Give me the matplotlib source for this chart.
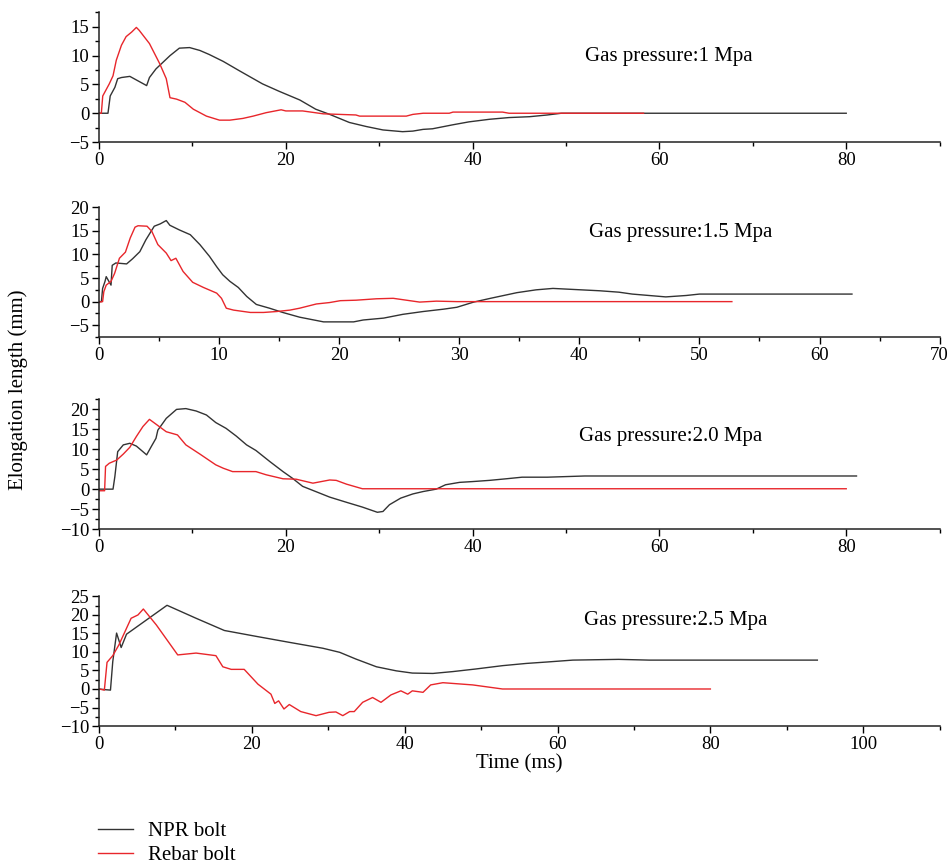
import matplotlib
matplotlib.use('Agg')
import matplotlib.pyplot as plt
from matplotlib.ticker import MultipleLocator
from matplotlib.lines import Line2D

plt.rcParams['font.family'] = ['Liberation Serif', 'DejaVu Serif']

# ---- data (time in ms, elongation in mm) ----
npr1_t = [0, 0.96, 1.2, 1.7, 2.0, 2.4, 3.3, 5.1, 5.4, 6.1, 7.6, 8.6, 9.7, 10.8, 11.8, 13.3, 15.0, 17.5,
          19.3, 21.5, 23.2, 24.7, 26.8, 28.6, 30.4, 32.5, 33.6, 34.7, 35.7, 37.9, 39.6, 41.8, 43.9, 46.1,
          48.0, 49.5, 80]
npr1_y = [0, 0, 3.0, 4.5, 6.0, 6.2, 6.4, 4.8, 6.2, 7.7, 10.0, 11.3, 11.4, 10.9, 10.2, 9.0, 7.4, 5.1,
          3.8, 2.3, 0.7, -0.2, -1.6, -2.3, -2.9, -3.2, -3.1, -2.8, -2.7, -2.0, -1.5, -1.05, -0.75, -0.6,
          -0.3, 0, 0]
reb1_t = [0, 0.25, 0.4, 0.8, 1.1, 1.5, 1.85, 2.4, 2.9, 3.5, 4.0, 4.3, 5.4, 6.5, 7.2, 7.6, 8.3, 9.2,
          10.1, 11.5, 12.9, 14.0, 15.4, 16.5, 17.9, 19.5, 20.0, 21.8, 24.0, 27.5, 27.9, 32.9, 33.6, 34.7,
          37.5, 37.9, 43.2, 43.9, 58.3]
reb1_y = [0, 0, 3.0, 4.2, 5.1, 6.5, 9.2, 11.8, 13.3, 14.1, 14.9, 14.4, 12.1, 8.6, 6.0, 2.7, 2.45, 1.9,
          0.7, -0.5, -1.2, -1.2, -0.9, -0.5, 0.1, 0.6, 0.4, 0.4, -0.1, -0.3, -0.5, -0.5, -0.2, 0.0,
          0, 0.2, 0.2, 0, 0]

npr2_t = [0, 0.2, 0.3, 0.5, 0.6, 0.8, 1.0, 1.1, 1.4, 2.3, 2.8, 3.4, 3.9, 4.6, 5.1, 5.6, 5.9, 6.7, 7.6,
          8.4, 9.2, 9.8, 10.3, 10.9, 11.6, 12.3, 13.1, 14.2, 15.3, 16.7, 18.7, 21.2, 22.0, 23.7, 25.3,
          27.0, 28.7, 29.8, 31.2, 32.6, 34.8, 36.4, 37.8, 41.7, 43.3, 44.4, 45.8, 47.2, 48.9, 50.0, 62.7]
npr2_y = [0, 0, 2.8, 4.3, 5.3, 4.4, 3.5, 7.7, 8.2, 8.0, 9.1, 10.6, 13.1, 16.0, 16.5, 17.2, 16.2, 15.2,
          14.2, 12.1, 9.6, 7.4, 5.7, 4.3, 3.0, 1.1, -0.6, -1.4, -2.3, -3.3, -4.3, -4.3, -3.9, -3.5, -2.7,
          -2.1, -1.6, -1.2, -0.1, 0.7, 1.9, 2.5, 2.8, 2.3, 2.0, 1.6, 1.3, 1.0, 1.3, 1.6, 1.6]
reb2_t = [0, 0.3, 0.4, 0.6, 1.0, 1.3, 1.7, 2.2, 2.6, 3.0, 3.25, 4.0, 4.4, 4.9, 5.6, 6.0, 6.4, 7.0, 7.8,
          8.7, 9.8, 10.2, 10.6, 11.2, 12.6, 13.7, 14.8, 15.9, 16.7, 18.1, 19.2, 20.1, 21.4, 23.1, 24.5,
          25.6, 26.7, 28.1, 29.8, 52.7]
reb2_y = [-0.1, 0, 2.1, 3.5, 4.3, 6.0, 9.2, 10.5, 13.5, 15.8, 16.1, 16.0, 14.9, 12.1, 10.3, 8.7, 9.2,
          6.4, 4.1, 3.0, 1.8, 0.7, -1.4, -1.8, -2.3, -2.3, -2.1, -1.8, -1.4, -0.5, -0.2, 0.2, 0.3, 0.6,
          0.7, 0.3, -0.1, 0.1, 0, 0]

npr3_t = [0, 1.5, 1.7, 2.0, 2.6, 3.3, 4.0, 5.1, 5.6, 6.1, 6.3, 7.2, 8.3, 9.3, 10.4, 11.5, 12.5, 13.6,
          14.7, 15.8, 16.8, 18.3, 19.7, 20.7, 21.8, 23.2, 24.7, 26.5, 28.2, 29.8, 30.4, 31.1, 32.3, 33.6,
          34.7, 36.1, 37.1, 38.6, 40.0, 41.8, 43.6, 45.3, 48.0, 52.0, 81.1]
npr3_y = [0, 0, 3.2, 9.4, 11.1, 11.5, 10.8, 8.6, 10.7, 12.75, 14.8, 17.75, 20.0, 20.2, 19.6, 18.6,
          16.7, 15.25, 13.3, 11.1, 9.7, 6.9, 4.4, 2.75, 0.7, -0.6, -2.0, -3.3, -4.5, -5.8, -5.6, -3.9,
          -2.25, -1.2, -0.6, 0, 1.1, 1.7, 1.9, 2.2, 2.6, 3.0, 3.0, 3.3, 3.3]
reb3_t = [0, 0.6, 0.7, 1.1, 1.9, 2.6, 3.3, 4.0, 4.7, 5.4, 6.1, 7.2, 8.4, 9.3, 10.8, 12.5, 13.3, 14.3,
          16.8, 17.9, 19.7, 21.1, 22.9, 24.7, 25.4, 26.5, 28.2, 80]
reb3_y = [-0.4, -0.4, 5.7, 6.5, 7.3, 8.8, 10.5, 13.2, 15.7, 17.5, 16.3, 14.4, 13.6, 11.1, 8.8, 6.1,
          5.25, 4.4, 4.4, 3.6, 2.6, 2.5, 1.5, 2.3, 2.2, 1.25, 0.1, 0.1]

npr4_t = [0, 0.9, 1.5, 1.8, 2.3, 2.9, 3.6, 8.9, 12.7, 16.4, 20.6, 24.9, 29.3, 31.5, 33.6, 36.3, 38.9,
          41.0, 43.7, 46.3, 49.3, 52.8, 55.9, 58.7, 62.0, 68.0, 72.0, 94.0]
npr4_y = [0, -0.2, -0.3, 7.4, 15.1, 11.2, 14.8, 22.6, 19.1, 15.8, 14.2, 12.6, 11.0, 9.9, 8.1, 6.0, 4.9,
          4.3, 4.2, 4.7, 5.4, 6.3, 6.9, 7.3, 7.8, 8.0, 7.8, 7.8]
reb4_t = [0, 0.7, 1.05, 1.8, 2.6, 3.4, 4.2, 5.1, 5.8, 7.5, 10.3, 12.7, 15.3, 16.2, 17.3, 19.0, 20.8,
          22.5, 23.0, 23.5, 24.2, 24.9, 26.4, 28.4, 30.1, 31.0, 31.9, 32.8, 33.4, 34.5, 35.8, 36.9, 38.2,
          39.5, 40.4, 41.0, 42.4, 43.4, 45.0, 48.9, 52.8, 80]
reb4_y = [0, -0.3, 7.2, 9.0, 11.9, 15.5, 19.1, 20.0, 21.6, 17.3, 9.2, 9.7, 9.0, 6.0, 5.3, 5.3, 1.3,
          -1.4, -3.9, -3.2, -5.4, -4.2, -6.1, -7.2, -6.3, -6.2, -7.2, -6.1, -6.1, -3.6, -2.3, -3.6, -1.6,
          -0.5, -1.4, -0.5, -0.9, 1.1, 1.7, 1.1, 0, 0]

labels = ['Gas pressure:1 Mpa', 'Gas pressure:1.5 Mpa', 'Gas pressure:2.0 Mpa', 'Gas pressure:2.5 Mpa']

# per panel: x limits, x major/minor, y limits, label position
panels = [
    (npr1_t, npr1_y, reb1_t, reb1_y, (0, 90), 20, 10, (-5, 17.5), (52, 9.8)),
    (npr2_t, npr2_y, reb2_t, reb2_y, (0, 70), 10, 5, (-7.5, 20), (40.8, 14.7)),
    (npr3_t, npr3_y, reb3_t, reb3_y, (0, 90), 20, 10, (-10, 22.5), (51.4, 13.2)),
    (npr4_t, npr4_y, reb4_t, reb4_y, (0, 110), 20, 10, (-10, 25), (63.5, 18.6)),
]
bottoms = [0.8356, 0.610, 0.3877, 0.1597]

black = '#333333'
red = '#e8262b'

fig = plt.figure(figsize=(9.52, 8.64), dpi=100)

for i, p in enumerate(panels):
    nt, ny, rt, ry, xl, xmaj, xmin, yl, lab = p
    ax = fig.add_axes([0.104, bottoms[i], 0.883, 0.150])
    ax.plot(nt, ny, color=black, lw=1.0)
    ax.plot(rt, ry, color=red, lw=1.0)
    ax.set_xlim(xl)
    ax.set_ylim(yl)
    ax.xaxis.set_major_locator(MultipleLocator(xmaj))
    ax.xaxis.set_minor_locator(MultipleLocator(xmin))
    ax.yaxis.set_major_locator(MultipleLocator(5))
    ax.yaxis.set_minor_locator(MultipleLocator(2.5))
    for s in ['top', 'right']:
        ax.spines[s].set_visible(False)
    for s in ['left', 'bottom']:
        ax.spines[s].set_linewidth(1.1)
        ax.spines[s].set_color('#222222')
    ax.tick_params(which='major', direction='out', length=5, width=1.0, labelsize=13.5, pad=2)
    ax.tick_params(which='minor', direction='out', length=3, width=1.0)
    ax.text(lab[0], lab[1], labels[i], fontsize=15, va='center', ha='left')
    if i == 3:
        ax.set_xlabel('Time (ms)', fontsize=15, labelpad=1)

fig.text(0.019, 0.549, 'Elongation length (mm)', rotation=90, fontsize=15, va='center', ha='center')

handles = [Line2D([], [], color=black, lw=1.0), Line2D([], [], color=red, lw=1.0)]
fig.legend(handles, ['NPR bolt', 'Rebar bolt'], loc='upper left', bbox_to_anchor=(0.103, 0.049),
           frameon=False, fontsize=15, handlelength=1.68, handletextpad=0.72, labelspacing=0.2,
           borderaxespad=0, borderpad=0)

plt.savefig('out.png', dpi=100)
